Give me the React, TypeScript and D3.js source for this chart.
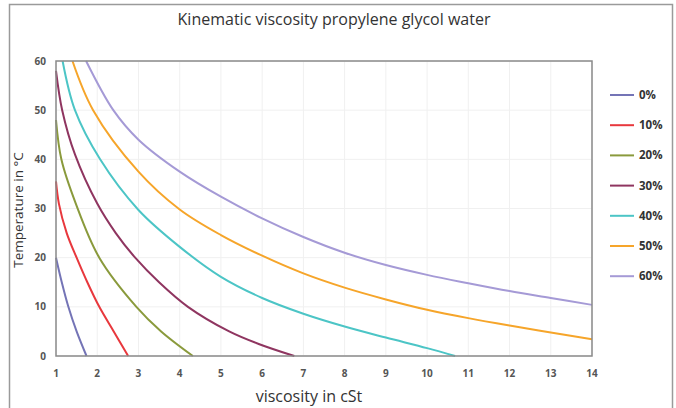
import { useMemo } from 'react';
import * as d3 from 'd3';

const WIDTH = 676;
const HEIGHT = 408;
const MARGIN = { top: 61, right: 84, bottom: 52, left: 56 };

type Pt = { v: number; t: number };

// viscosity (cSt) / temperature (°C) pairs
const water0: Pt[] = [
  { v: 1.0, t: 20 }, { v: 1.14, t: 15 }, { v: 1.3, t: 10 }, { v: 1.5, t: 5 }, { v: 1.74, t: 0 },
];
const pg10: Pt[] = [
  { v: 1.0, t: 35.5 }, { v: 1.07, t: 31 }, { v: 1.26, t: 25 }, { v: 1.5, t: 20 },
  { v: 1.76, t: 15 }, { v: 2.05, t: 10 }, { v: 2.4, t: 5 }, { v: 2.75, t: 0 },
];
const pg20: Pt[] = [
  { v: 1.0, t: 48 }, { v: 1.13, t: 40 }, { v: 1.48, t: 31 }, { v: 2.05, t: 20 },
  { v: 2.95, t: 10 }, { v: 3.55, t: 5 }, { v: 4.32, t: 0 },
];
const pg30: Pt[] = [
  { v: 1.0, t: 58 }, { v: 1.15, t: 50 }, { v: 1.46, t: 41 }, { v: 2.0, t: 31 },
  { v: 2.45, t: 25 }, { v: 2.92, t: 20 }, { v: 3.5, t: 15 }, { v: 4.2, t: 10 },
  { v: 5.2, t: 5 }, { v: 5.9, t: 2.5 }, { v: 6.78, t: 0 },
];
const pg40: Pt[] = [
  { v: 1.16, t: 60 }, { v: 1.46, t: 50 }, { v: 2.07, t: 40 }, { v: 3.0, t: 29.7 },
  { v: 4.0, t: 22.2 }, { v: 5.0, t: 16.1 }, { v: 6.0, t: 11.8 }, { v: 7.0, t: 8.6 },
  { v: 8.0, t: 6 }, { v: 9.0, t: 3.75 }, { v: 10.0, t: 1.6 }, { v: 10.68, t: 0 },
];
const pg50: Pt[] = [
  { v: 1.4, t: 60 }, { v: 1.9, t: 50 }, { v: 3.0, t: 37.5 },
  { v: 4.0, t: 29.8 }, { v: 5.0, t: 24.6 }, { v: 6.0, t: 20.4 }, { v: 7.0, t: 16.8 },
  { v: 8.0, t: 13.9 }, { v: 9.0, t: 11.5 }, { v: 10.0, t: 9.4 }, { v: 11.0, t: 7.7 },
  { v: 12.0, t: 6.2 }, { v: 13.0, t: 4.8 }, { v: 14, t: 3.4 },
];
const pg60: Pt[] = [
  { v: 1.73, t: 60 }, { v: 2.39, t: 50 }, { v: 3.0, t: 44.0 }, { v: 4.0, t: 37.5 },
  { v: 5.0, t: 32.4 }, { v: 6.0, t: 28.0 }, { v: 7.0, t: 24.2 }, { v: 8.0, t: 21.0 },
  { v: 9.0, t: 18.5 }, { v: 10.0, t: 16.5 }, { v: 11.0, t: 14.8 }, { v: 12.0, t: 13.2 },
  { v: 13.0, t: 11.8 }, { v: 14, t: 10.4 },
];

const seriesNames = ['0%', '10%', '20%', '30%', '40%', '50%', '60%'];
const seriesData = [water0, pg10, pg20, pg30, pg40, pg50, pg60];
const colors = ['#7474b6', '#e8383d', '#8a9a3c', '#8f3560', '#4cc5c6', '#f6a52a', '#a59ad6'];

const xTicks = d3.range(1, 15);
const yTicks = [0, 10, 20, 30, 40, 50, 60];

const FONT = '"Open Sans", "DejaVu Sans", sans-serif';

export default function App() {
  const boundsWidth = WIDTH - MARGIN.left - MARGIN.right;
  const boundsHeight = HEIGHT - MARGIN.top - MARGIN.bottom;

  const xScale = useMemo(() => d3.scaleLinear().domain([1, 14]).range([0, boundsWidth]), [boundsWidth]);
  const yScale = useMemo(() => d3.scaleLinear().domain([0, 60]).range([boundsHeight, 0]), [boundsHeight]);

  // curves run top-left to bottom-right, so order points by temperature
  const lineBuilder = d3
    .line<Pt>()
    .x((d) => xScale(d.v))
    .y((d) => yScale(d.t))
    .curve(d3.curveCatmullRom.alpha(0.5));

  return (
    <svg width={WIDTH} height={HEIGHT} style={{ position: 'absolute', left: 0, top: 0, background: '#fff' }}>
      {/* outer frame */}
      <rect x={9.5} y={4.5} width={663} height={410} fill="#fff" stroke="#9a9a9a" strokeWidth={1.5} />

      <text x={334} y={25} textAnchor="middle" fontFamily={FONT} fontSize={16} fill="#333">
        Kinematic viscosity propylene glycol water
      </text>

      <g transform={`translate(${MARGIN.left},${MARGIN.top})`}>
        {xTicks.map((t) => (
          <line key={'gx' + t} x1={xScale(t)} x2={xScale(t)} y1={0} y2={boundsHeight} stroke="#f0f0f0" />
        ))}
        {yTicks.map((t) => (
          <line key={'gy' + t} x1={0} x2={boundsWidth} y1={yScale(t)} y2={yScale(t)} stroke="#f0f0f0" />
        ))}

        {seriesData.map((s, i) => (
          <path key={i} d={lineBuilder([...s].sort((a, b) => b.t - a.t)) || ''} fill="none" stroke={colors[i]} strokeWidth={2} />
        ))}

        <rect x={0} y={0} width={boundsWidth} height={boundsHeight} fill="none" stroke="#8a8a8a" strokeWidth={1.5} />

        {xTicks.map((t) => (
          <text key={'tx' + t} x={xScale(t)} y={boundsHeight + 21} textAnchor="middle" fontFamily={FONT} fontSize={10} fontWeight="bold" fill="#555">
            {t}
          </text>
        ))}
        {yTicks.map((t) => (
          <text key={'ty' + t} x={-10} y={yScale(t) + 3.5} textAnchor="end" fontFamily={FONT} fontSize={10} fontWeight="bold" fill="#555">
            {t}
          </text>
        ))}
      </g>

      <text x={309} y={402} textAnchor="middle" fontFamily={FONT} fontSize={16} fill="#333">
        viscosity in cSt
      </text>
      <text transform="translate(23,210) rotate(-90)" textAnchor="middle" fontFamily={FONT} fontSize={13.5} fill="#333">
        Temperature in °C
      </text>

      {seriesNames.map((name, i) => {
        const y = 95 + i * 30.2;
        return (
          <g key={name}>
            <line x1={610} x2={634} y1={y} y2={y} stroke={colors[i]} strokeWidth={2} />
            <text x={639} y={y + 4} fontFamily={FONT} fontSize={11.5} fontWeight="bold" fill="#333">
              {name}
            </text>
          </g>
        );
      })}
    </svg>
  );
}
